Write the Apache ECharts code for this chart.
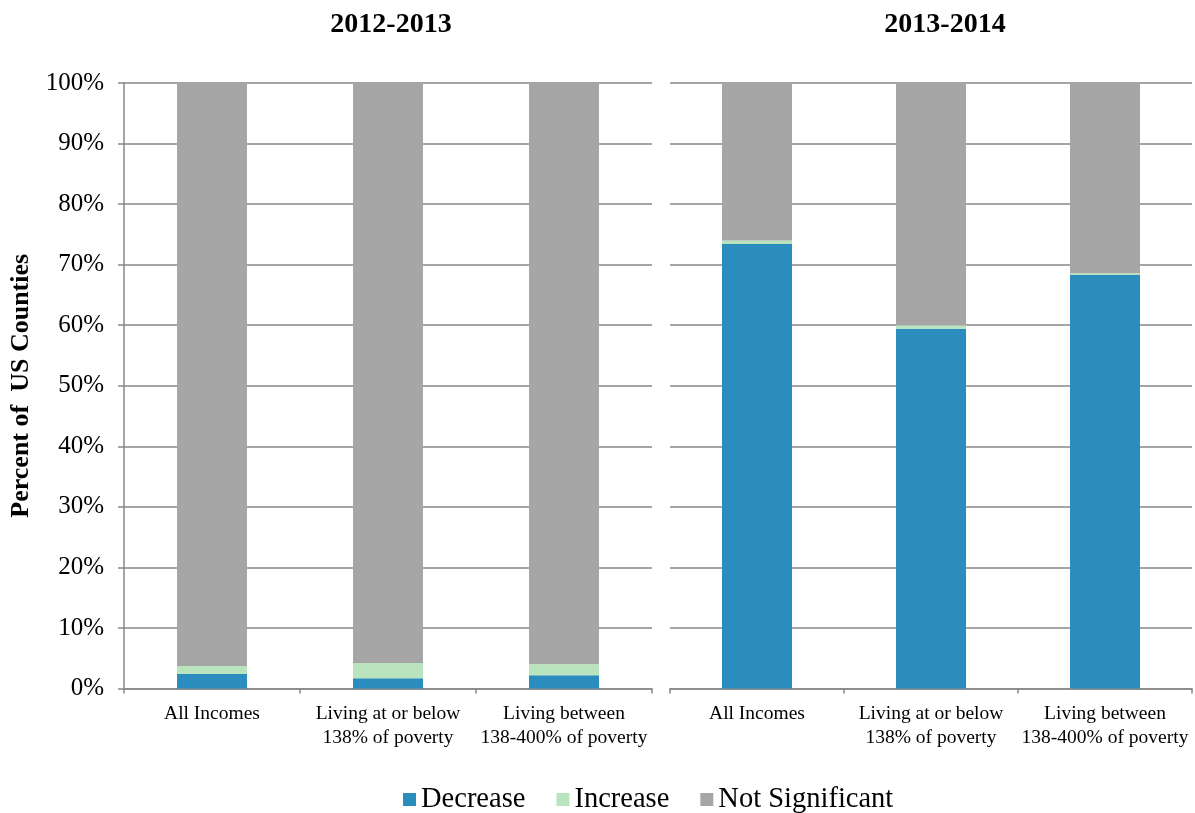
<!DOCTYPE html>
<html>
<head>
<meta charset="utf-8">
<script src="https://cdn.jsdelivr.net/npm/echarts@6/dist/echarts.min.js"></script>
<style>html,body{margin:0;padding:0;background:#fff;}#c{width:1195px;height:813px;}</style>
</head>
<body>
<div id="c"></div>
<script>
const categories = ['All Incomes', 'Living at or below\n138% of poverty', 'Living between\n138-400% of poverty'];
const panelTitles = ['2012-2013', '2013-2014'];
const seriesNames = ['Decrease', 'Increase', 'Not Significant'];
const decrease2012 = [2.4, 1.7, 2.2];
const increase2012 = [1.3, 2.5, 1.8];
const notSig2012 = [96.3, 95.8, 96.0];
const decrease2013 = [73.4, 59.4, 68.3];
const increase2013 = [0.6, 0.6, 0.3];
const notSig2013 = [26.0, 40.0, 31.4];
const yTicks = [0, 10, 20, 30, 40, 50, 60, 70, 80, 90, 100];

const colors = ['#2b8cbe', '#b9e4bd', '#a6a6a6'];
const font = '"Liberation Serif", "Times New Roman", serif';
const gridColor = '#878787';

const chart = echarts.init(document.getElementById('c'));
const grids = [
  {left: 124, right: 1195 - 652, top: 83, bottom: 813 - 688.5},
  {left: 670, right: 1195 - 1192, top: 83, bottom: 813 - 688.5}
];
function xAxis(i) {
  return {
    type: 'category', gridIndex: i, data: categories,
    axisLine: {show: true, lineStyle: {color: gridColor, width: 1.5}},
    axisTick: {show: true, length: 5, lineStyle: {color: gridColor, width: 1.5}},
    axisLabel: {fontFamily: font, fontSize: 19.5, color: '#000', lineHeight: 24, margin: 13, interval: 0}
  };
}
function yAxis(i) {
  return {
    type: 'value', gridIndex: i, min: 0, max: 100, interval: 10,
    name: i === 0 ? 'Percent of  US Counties' : '',
    nameLocation: 'middle', nameGap: 90, nameRotate: 90,
    nameTextStyle: {fontFamily: font, fontSize: 26, fontWeight: 'bold', color: '#000'},
    axisLine: {show: i === 0, lineStyle: {color: gridColor, width: 1.5}},
    axisTick: {show: i === 0, length: 6, lineStyle: {color: gridColor, width: 1.5}},
    axisLabel: {show: i === 0, fontFamily: font, fontSize: 25, color: '#000', margin: 20,
      formatter: v => yTicks.includes(v) ? v + '%' : ''},
    splitLine: {show: true, lineStyle: {color: gridColor, width: 1.5}}
  };
}
const data = [[decrease2012, increase2012, notSig2012], [decrease2013, increase2013, notSig2013]];
const series = [];
for (let g = 0; g < 2; g++) {
  for (let s = 0; s < 3; s++) {
    series.push({
      name: seriesNames[s], type: 'bar', stack: 'p' + g, xAxisIndex: g, yAxisIndex: g,
      barWidth: 70, data: data[g][s], itemStyle: {color: colors[s]},
      emphasis: {disabled: true}
    });
  }
}
chart.setOption({
  animation: false,
  title: [
    {text: panelTitles[0], left: 386, top: 6, textAlign: 'center',
      textStyle: {fontFamily: font, fontSize: 28, fontWeight: 'bold', color: '#000'}},
    {text: panelTitles[1], left: 940, top: 6, textAlign: 'center',
      textStyle: {fontFamily: font, fontSize: 28, fontWeight: 'bold', color: '#000'}}
  ],
  legend: {
    data: seriesNames, left: 398, top: 780, itemWidth: 13, itemHeight: 13, itemGap: 31,
    icon: 'rect', textStyle: {fontFamily: font, fontSize: 28.5, color: '#000'}
  },
  grid: grids,
  xAxis: [xAxis(0), xAxis(1)],
  yAxis: [yAxis(0), yAxis(1)],
  series: series
});
</script>
</body>
</html>
